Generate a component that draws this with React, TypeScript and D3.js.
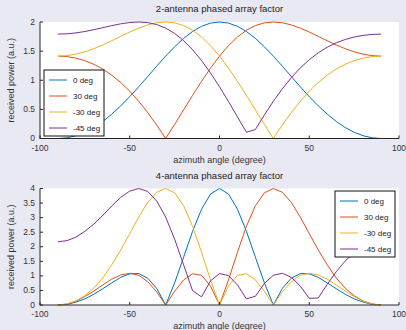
import React from "react";
import * as d3 from "d3";

// azimuth samples, -90..90 every 5 degrees
const angles = d3.range(-90, 91, 5);

const seriesNames = ["0 deg", "30 deg", "-30 deg", "-45 deg"];
const colors = ["#0072BD", "#D95319", "#EDB120", "#7E2F8E"];

// 2-antenna array factor
const two0 = [0, 0.012, 0.048, 0.107, 0.189, 0.293, 0.418, 0.561, 0.719, 0.888, 1.064, 1.242, 1.414, 1.575, 1.718, 1.837, 1.926, 1.981, 2, 1.981, 1.926, 1.837, 1.718, 1.575, 1.414, 1.242, 1.064, 0.888, 0.719, 0.561, 0.418, 0.293, 0.189, 0.107, 0.048, 0.012, 0];
const two30 = [1.414, 1.406, 1.38, 1.336, 1.274, 1.192, 1.087, 0.961, 0.812, 0.639, 0.445, 0.231, 0, 0.242, 0.491, 0.74, 0.981, 1.208, 1.414, 1.594, 1.743, 1.858, 1.939, 1.985, 2, 1.987, 1.95, 1.895, 1.828, 1.754, 1.679, 1.606, 1.542, 1.488, 1.448, 1.423, 1.414];
const twoM30 = [1.414, 1.423, 1.448, 1.488, 1.542, 1.606, 1.679, 1.754, 1.828, 1.895, 1.95, 1.987, 2, 1.985, 1.939, 1.858, 1.743, 1.594, 1.414, 1.208, 0.981, 0.74, 0.491, 0.242, 0, 0.231, 0.445, 0.639, 0.812, 0.961, 1.087, 1.192, 1.274, 1.336, 1.38, 1.406, 1.414];
const twoM45 = [1.792, 1.797, 1.813, 1.837, 1.868, 1.903, 1.938, 1.969, 1.991, 2, 1.99, 1.956, 1.895, 1.804, 1.68, 1.524, 1.338, 1.124, 0.888, 0.635, 0.372, 0.107, 0.154, 0.405, 0.639, 0.853, 1.045, 1.211, 1.353, 1.471, 1.567, 1.642, 1.7, 1.742, 1.77, 1.787, 1.792];

// 4-antenna array factor
const four0 = [0, 0.02, 0.1, 0.21, 0.37, 0.56, 0.76, 0.95, 1.07, 1.08, 0.92, 0.57, 0, 0.76, 1.64, 2.53, 3.29, 3.81, 4, 3.81, 3.29, 2.53, 1.64, 0.76, 0, 0.57, 0.92, 1.08, 1.07, 0.95, 0.76, 0.56, 0.37, 0.21, 0.1, 0.02, 0];
const four30 = [0, 0.03, 0.13, 0.29, 0.48, 0.69, 0.89, 1.03, 1.09, 1.02, 0.8, 0.45, 0, 0.47, 0.86, 1.07, 1.02, 0.65, 0, 0.86, 1.81, 2.7, 3.41, 3.85, 4, 3.87, 3.52, 3.02, 2.45, 1.89, 1.38, 0.93, 0.58, 0.32, 0.14, 0.04, 0];
const fourM30 = [0, 0.04, 0.14, 0.32, 0.58, 0.93, 1.38, 1.89, 2.45, 3.02, 3.52, 3.87, 4, 3.85, 3.41, 2.7, 1.81, 0.86, 0, 0.65, 1.02, 1.07, 0.86, 0.47, 0, 0.45, 0.8, 1.02, 1.09, 1.03, 0.89, 0.69, 0.48, 0.29, 0.13, 0.03, 0];
const fourM45 = [2.17, 2.21, 2.33, 2.53, 2.78, 3.08, 3.4, 3.7, 3.91, 4, 3.9, 3.57, 3.02, 2.26, 1.38, 0.49, 0.28, 0.83, 1.08, 1.01, 0.69, 0.21, 0.3, 0.74, 1.02, 1.09, 0.95, 0.65, 0.23, 0.24, 0.71, 1.14, 1.51, 1.8, 2.01, 2.13, 2.17];

const xTicks = [-100, -50, 0, 50, 100];
const topYTicks = [0, 0.5, 1, 1.5, 2];
const bottomYTicks = [0, 0.5, 1, 1.5, 2, 2.5, 3, 3.5, 4];

const W = 406;
const H = 330;
const FONT = "Liberation Sans, Arial, sans-serif";

type PanelProps = {
  top: number;
  title: string;
  series: number[][];
  yMax: number;
  yTicks: number[];
  legend: { x: number; y: number };
};

function Panel({ top, title, series, yMax, yTicks, legend }: PanelProps) {
  const left = 40;
  const right = 399;
  const plotH = 116.5;
  const x = d3.scaleLinear().domain([-100, 100]).range([left, right]);
  const y = d3.scaleLinear().domain([0, yMax]).range([top + plotH, top]);
  const line = d3
    .line<number>()
    .x((d, i) => x(angles[i]))
    .y((d) => y(d));
  const bottom = top + plotH;

  return (
    <g>
      <rect x={left} y={top} width={right - left} height={plotH} fill="#fff" />
      <text x={(left + right) / 2} y={top - 10} textAnchor="middle" fontSize={9.5} fill="#222" fontFamily={FONT}>
        {title}
      </text>
      {series.map((s, i) => (
        <path key={i} d={line(s) || ""} fill="none" stroke={colors[i]} strokeWidth={1} />
      ))}
      {/* axes */}
      <line x1={left} x2={left} y1={top} y2={bottom + 0.5} stroke="#262626" strokeWidth={1} />
      <line x1={left} x2={right} y1={bottom} y2={bottom} stroke="#262626" strokeWidth={1} />
      {yTicks.map((t) => (
        <g key={t}>
          <line x1={left} x2={left + 3} y1={y(t)} y2={y(t)} stroke="#262626" />
          <text x={left - 5} y={y(t) + 2.5} textAnchor="end" fontSize={8.5} fill="#333" fontFamily={FONT}>
            {t}
          </text>
        </g>
      ))}
      {xTicks.map((t) => (
        <g key={t}>
          <line x1={x(t)} x2={x(t)} y1={bottom} y2={bottom - 3} stroke="#262626" />
          <text x={x(t)} y={bottom + 12} textAnchor="middle" fontSize={8.5} fill="#333" fontFamily={FONT}>
            {t}
          </text>
        </g>
      ))}
      <text x={(left + right) / 2} y={bottom + 24} textAnchor="middle" fontSize={9} fill="#333" fontFamily={FONT}>
        azimuth angle (degree)
      </text>
      <text
        transform={`translate(14,${top + plotH / 2}) rotate(-90)`}
        textAnchor="middle"
        fontSize={9}
        fill="#333"
        fontFamily={FONT}
      >
        received power (a.u.)
      </text>
      {/* legend */}
      <rect x={legend.x} y={legend.y} width={60} height={66} fill="#fff" stroke="#111" strokeWidth={1} />
      {seriesNames.map((n, i) => {
        const ly = legend.y + 10 + i * 16;
        return (
          <g key={n}>
            <line x1={legend.x + 5} x2={legend.x + 23} y1={ly} y2={ly} stroke={colors[i]} strokeWidth={1} />
            <text x={legend.x + 29} y={ly + 3} fontSize={8} fill="#222" fontFamily={FONT}>
              {n}
            </text>
          </g>
        );
      })}
    </g>
  );
}

export default function App() {
  return (
    <svg width={W} height={H} style={{ position: "absolute", left: 0, top: 0, display: "block" }}>
      <rect x={0} y={0} width={W} height={H} fill="#E9E9F3" />
      <Panel
        top={22}
        title="2-antenna phased array factor"
        series={[two0, two30, twoM30, twoM45]}
        yMax={2}
        yTicks={topYTicks}
        legend={{ x: 44, y: 70 }}
      />
      <Panel
        top={188.5}
        title="4-antenna phased array factor"
        series={[four0, four30, fourM30, fourM45]}
        yMax={4}
        yTicks={bottomYTicks}
        legend={{ x: 335, y: 191 }}
      />
    </svg>
  );
}
